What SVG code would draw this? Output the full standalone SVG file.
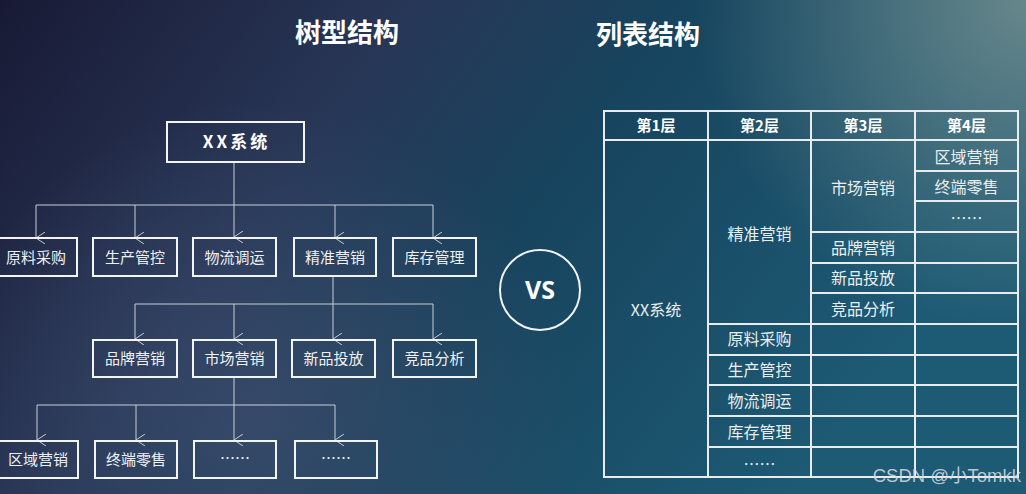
<svg xmlns="http://www.w3.org/2000/svg" width="1026" height="494" viewBox="0 0 1026 494">
<defs>
<linearGradient id="bg" x1="0" y1="0" x2="1" y2="0.35">
<stop offset="0" stop-color="#181a35"/>
<stop offset="0.35" stop-color="#283656"/>
<stop offset="0.6" stop-color="#17445e"/>
<stop offset="1" stop-color="#1d5a74"/>
</linearGradient>
<radialGradient id="glowTR" cx="1026" cy="0" r="330" gradientUnits="userSpaceOnUse">
<stop offset="0" stop-color="#6f8c8e" stop-opacity="0.9"/>
<stop offset="1" stop-color="#6f8c8e" stop-opacity="0"/>
</radialGradient>
<radialGradient id="glowBL" cx="260" cy="420" r="320" gradientUnits="userSpaceOnUse">
<stop offset="0" stop-color="#3c4c6c" stop-opacity="0.8"/>
<stop offset="1" stop-color="#3c4c6c" stop-opacity="0"/>
</radialGradient>
<marker id="arr" viewBox="0 0 12 10" refX="6" refY="9" markerWidth="12" markerHeight="10" markerUnits="userSpaceOnUse" orient="auto-start-reverse">
<path d="M0,0 L6,9 L12,0" fill="none" stroke="#c9cdd6" stroke-width="1"/>
</marker>
<style>
.box{fill:none;stroke:#f2f4f6;stroke-width:2}
.t{font-family:"Noto Sans CJK SC","Microsoft YaHei",sans-serif;font-size:15px;fill:#eef1f4;text-anchor:middle}
.tt{font-family:"Noto Sans CJK SC","Microsoft YaHei",sans-serif;font-size:16px;fill:#e9eef1;text-anchor:middle}
.th{font-family:"Noto Sans CJK SC","Microsoft YaHei",sans-serif;font-size:15px;font-weight:bold;fill:#ffffff;text-anchor:middle}
.title{font-family:"Noto Sans CJK SC","Microsoft YaHei",sans-serif;font-size:26px;font-weight:bold;fill:#ffffff;text-anchor:middle}
.conn{fill:none;stroke:#c9cdd6;stroke-width:1}
.grid{fill:none;stroke:#e8ecee;stroke-width:2}
</style>
</defs>
<rect width="1026" height="494" fill="url(#bg)"/>
<rect width="1026" height="494" fill="url(#glowBL)"/>
<rect width="1026" height="494" fill="url(#glowTR)"/>

<text class="title" x="347" y="42">树型结构</text>
<text class="title" x="648" y="44">列表结构</text>

<g id="connectors">
<path class="conn" d="M234,162 V205 M36,205 H433"/>
<path class="conn" d="M36,205 V238" marker-end="url(#arr)"/>
<path class="conn" d="M135,205 V238" marker-end="url(#arr)"/>
<path class="conn" d="M234,205 V237" marker-end="url(#arr)"/>
<path class="conn" d="M335,205 V238" marker-end="url(#arr)"/>
<path class="conn" d="M433,205 V238" marker-end="url(#arr)"/>
<path class="conn" d="M135,304 H433"/>
<path class="conn" d="M135,304 V339" marker-end="url(#arr)"/>
<path class="conn" d="M234,304 V339" marker-end="url(#arr)"/>
<path class="conn" d="M333,276 V339" marker-end="url(#arr)"/>
<path class="conn" d="M433,304 V339" marker-end="url(#arr)"/>
<path class="conn" d="M234,377 V440" marker-end="url(#arr)"/>
<path class="conn" d="M37,405 H335"/>
<path class="conn" d="M37,405 V440" marker-end="url(#arr)"/>
<path class="conn" d="M136,405 V440" marker-end="url(#arr)"/>
<path class="conn" d="M335,405 V440" marker-end="url(#arr)"/>
</g>

<g id="root"><rect class="box" x="167" y="122" width="137" height="40"/><text class="th" x="236.5" y="148" style="font-size:17px;letter-spacing:3px">XX系统</text></g>

<g id="n-yuanliao"><rect class="box" x="-1" y="238" width="78" height="38"/><text class="t" x="36" y="263">原料采购</text></g>
<g id="n-shengchan"><rect class="box" x="93" y="238" width="84" height="38"/><text class="t" x="135" y="263">生产管控</text></g>
<g id="n-wuliu"><rect class="box" x="193" y="238" width="83" height="38"/><text class="t" x="234.5" y="263">物流调运</text></g>
<g id="n-jingzhun"><rect class="box" x="294" y="238" width="82" height="38"/><text class="t" x="335" y="263">精准营销</text></g>
<g id="n-kucun"><rect class="box" x="393" y="238" width="83" height="38"/><text class="t" x="434.5" y="263">库存管理</text></g>

<g id="n-pinpai"><rect class="box" x="93" y="340" width="84" height="37"/><text class="t" x="135" y="364">品牌营销</text></g>
<g id="n-shichang"><rect class="box" x="193" y="340" width="83" height="37"/><text class="t" x="234.5" y="364">市场营销</text></g>
<g id="n-xinpin"><rect class="box" x="292" y="340" width="83" height="37"/><text class="t" x="333.5" y="364">新品投放</text></g>
<g id="n-jingpin"><rect class="box" x="393" y="340" width="83" height="37"/><text class="t" x="434.5" y="364">竞品分析</text></g>

<g id="n-quyu"><rect class="box" x="-1" y="441" width="79" height="37"/><text class="t" x="38" y="465">区域营销</text></g>
<g id="n-zhongduan"><rect class="box" x="95" y="441" width="82" height="37"/><text class="t" x="136" y="465">终端零售</text></g>
<g id="n-more1"><rect class="box" x="194" y="441" width="82" height="37"/><text class="t" x="235" y="464">……</text></g>
<g id="n-more2"><rect class="box" x="295" y="441" width="82" height="37"/><text class="t" x="336" y="464">……</text></g>

<g id="vs"><circle cx="540" cy="290" r="40" fill="none" stroke="#f2f4f6" stroke-width="2"/><text x="540" y="299" style="font-family:'Open Sans','Noto Sans',sans-serif;font-size:25px;font-weight:bold;fill:#ffffff;text-anchor:middle">VS</text></g>

<g id="table">
<rect class="grid" x="604" y="111" width="414" height="366"/>
<path class="grid" d="M604,140 H1018 M708,111 V477 M811,111 V477 M915,111 V477"/>
<path class="grid" d="M915,171 H1018 M915,201 H1018 M811,232 H1018 M811,263 H1018 M811,293 H1018 M708,324 H1018 M708,355 H1018 M708,385 H1018 M708,416 H1018 M708,447 H1018"/>
<text class="th" x="656" y="131">第1层</text>
<text class="th" x="759.5" y="131">第2层</text>
<text class="th" x="863" y="131">第3层</text>
<text class="th" x="966.5" y="131">第4层</text>
<text class="tt" x="656" y="316">XX系统</text>
<text class="tt" x="759.5" y="240">精准营销</text>
<text class="tt" x="759.5" y="345">原料采购</text>
<text class="tt" x="759.5" y="376">生产管控</text>
<text class="tt" x="759.5" y="407">物流调运</text>
<text class="tt" x="759.5" y="438">库存管理</text>
<text class="tt" x="759.5" y="470">……</text>
<text class="tt" x="863" y="194">市场营销</text>
<text class="tt" x="863" y="254">品牌营销</text>
<text class="tt" x="863" y="284">新品投放</text>
<text class="tt" x="863" y="315">竞品分析</text>
<text class="tt" x="966.5" y="163">区域营销</text>
<text class="tt" x="966.5" y="193">终端零售</text>
<text class="tt" x="966.5" y="224">……</text>
</g>

<text x="1021" y="482" style="font-family:'Liberation Sans','Noto Sans CJK SC',sans-serif;font-size:18.5px;fill:#d8dde2;fill-opacity:0.85;text-anchor:end">CSDN @小Tomkk</text>
</svg>
